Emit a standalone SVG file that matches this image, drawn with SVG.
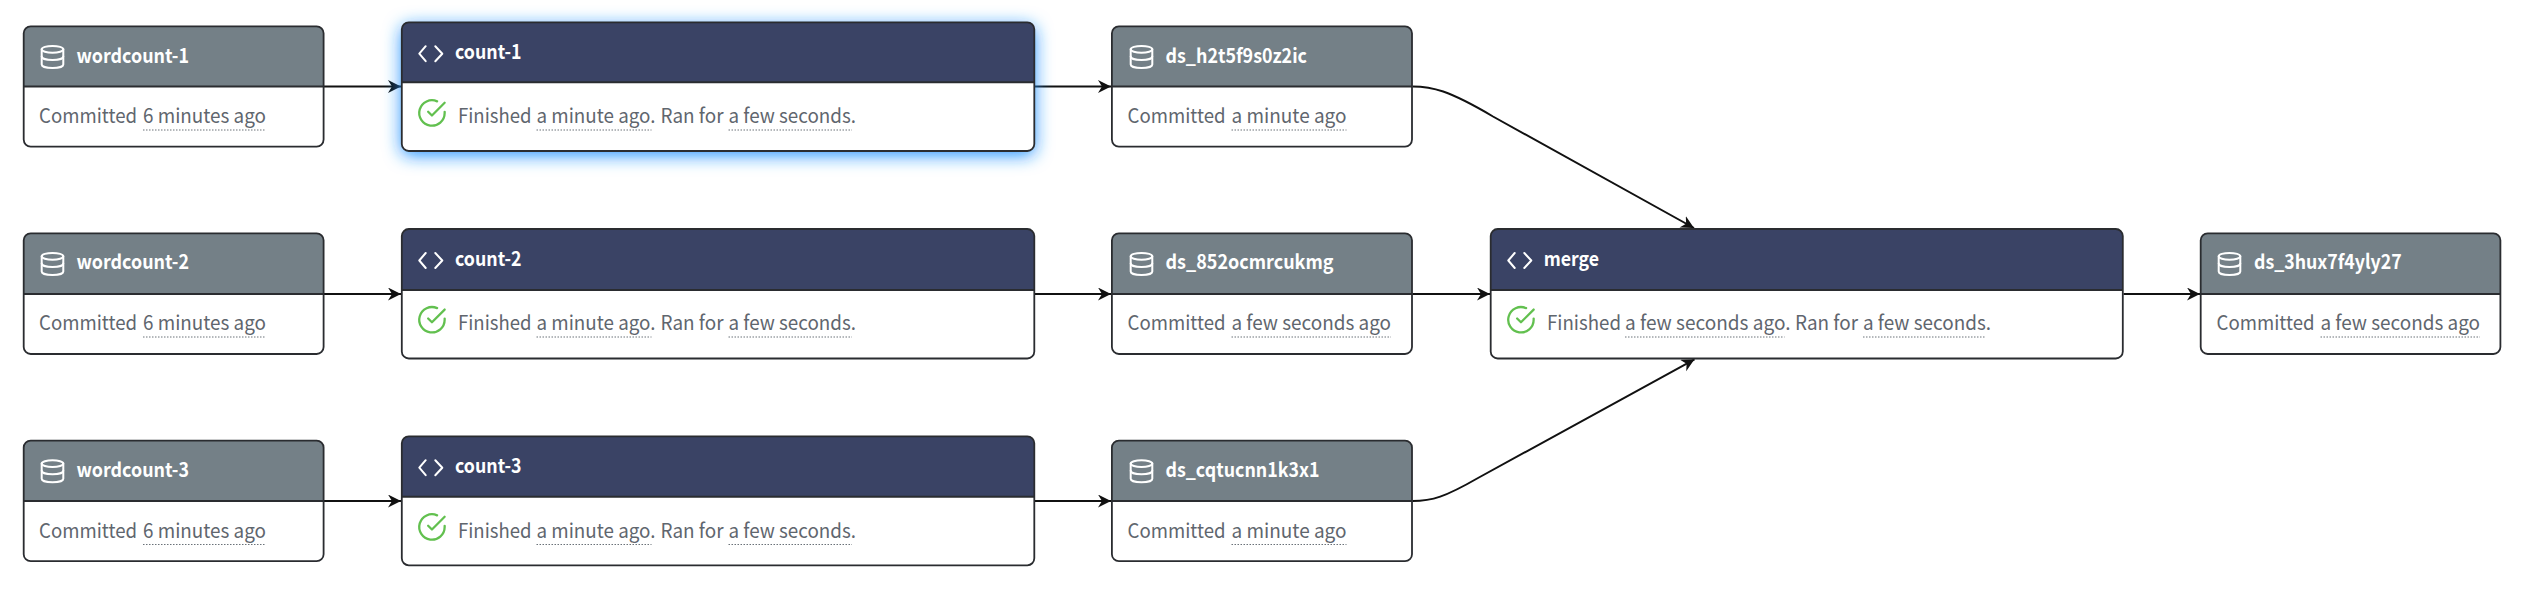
<svg xmlns="http://www.w3.org/2000/svg" width="2540" height="592" viewBox="0 0 2540 592">
<style>
text{font-family:"Noto Sans CJK SC","Source Sans Pro","Lato",sans-serif}
.b{fill:#fff}
.o{fill:none;stroke:#2a2c30;stroke-width:1.8}
.hd{fill:#748087}
.hj{fill:#3a4365}
.div{stroke:#2a2c30;stroke-width:2}
.t{font-size:20px;font-weight:600;fill:#fff}
.s{font-size:20px;fill:#5f666e}
.u{stroke:#6b7279;stroke-width:1;stroke-dasharray:1.5 1.5}
.c{fill:none;stroke:#111;stroke-width:2}
.i{fill:none;stroke:#fff;stroke-width:2;stroke-linecap:round;stroke-linejoin:round}
.k{fill:none;stroke:#62c04f;stroke-width:1.8;stroke-linecap:round;stroke-linejoin:round}
</style>
<defs>
<marker id="a" markerUnits="userSpaceOnUse" markerWidth="14" markerHeight="14" refX="13" refY="6.5" orient="auto"><path d="M0 0L13 6.500L0 13L4 6.500Z" fill="#111"/></marker>
<filter id="glow" x="-10%" y="-40%" width="120%" height="190%"><feDropShadow dx="0" dy="4" stdDeviation="9" flood-color="#1e90ff" flood-opacity="1"/></filter>
<symbol id="db" viewBox="0 0 24 24" width="24" height="24" overflow="visible"><g class="i"><ellipse cx="12" cy="4.300" rx="10.800" ry="3.400"/><path d="M1.200 4.300V19.500C1.200 21.500 6 23 12 23S22.800 21.500 22.800 19.500V4.300"/><path d="M1.200 11.500C1.200 13.500 6 15 12 15S22.800 13.500 22.800 11.500"/></g></symbol>
<symbol id="code" viewBox="0 0 26 16" width="26" height="16" overflow="visible"><path class="i" d="M7.700 0.500L1.300 8L7.700 15.500M17.300 0.500L24.300 8L17.300 15.500"/></symbol>
<symbol id="ok" viewBox="0 0 24 24" width="30.500" height="30.500" overflow="visible"><path class="k" d="M22 11.080V12a10 10 0 1 1-5.930-9.140"/><path class="k" d="M22 4L12 14.010l-3-3"/></symbol>
</defs>
<g id="connectors">
<path class="c" marker-end="url(#a)" d="M324 86.500H401"/>
<path class="c" marker-end="url(#a)" d="M324 294H401"/>
<path class="c" marker-end="url(#a)" d="M324 501H401"/>
<path class="c" marker-end="url(#a)" d="M1035 86.500H1111"/>
<path class="c" marker-end="url(#a)" d="M1035 294H1111"/>
<path class="c" marker-end="url(#a)" d="M1035 501H1111"/>
<path class="c" marker-end="url(#a)" d="M1412.500 86.500C1432 86.500 1448 90 1493 116.500L1694 228"/>
<path class="c" marker-end="url(#a)" d="M1412.500 294H1490"/>
<path class="c" marker-end="url(#a)" d="M1412.500 501C1432 501 1445 497 1478 478L1694.500 359.300"/>
<path class="c" marker-end="url(#a)" d="M2123.500 294H2200"/>
</g>
<g id="wordcount-1">
<rect class="b" x="23.700" y="26.300" width="299.900" height="120.300" rx="7"/>
<path class="hd" d="M23.700 86.500V33.300a7 7 0 0 1 7-7H316.600a7 7 0 0 1 7 7V86.500Z"/>
<line class="div" x1="23.700" y1="86.500" x2="323.600" y2="86.500"/>
<rect class="o" x="23.700" y="26.300" width="299.900" height="120.300" rx="7"/>
<use href="#db" x="40.500" y="45"/>
<text class="t" x="76.500" y="62.700" textLength="112.500" lengthAdjust="spacingAndGlyphs">wordcount-1</text>
<text class="s" x="39" y="123.300" textLength="98" lengthAdjust="spacingAndGlyphs">Committed</text>
<text class="s" x="143" y="123.300" textLength="123" lengthAdjust="spacingAndGlyphs">6 minutes ago</text>
<line class="u" x1="143" y1="130" x2="265.500" y2="130"/>
</g>
<g id="wordcount-2">
<rect class="b" x="23.700" y="233.300" width="299.900" height="120.700" rx="7"/>
<path class="hd" d="M23.700 294V240.300a7 7 0 0 1 7-7H316.600a7 7 0 0 1 7 7V294Z"/>
<line class="div" x1="23.700" y1="294" x2="323.600" y2="294"/>
<rect class="o" x="23.700" y="233.300" width="299.900" height="120.700" rx="7"/>
<use href="#db" x="40.500" y="252"/>
<text class="t" x="76.500" y="269.200" textLength="112.500" lengthAdjust="spacingAndGlyphs">wordcount-2</text>
<text class="s" x="39" y="330.300" textLength="98" lengthAdjust="spacingAndGlyphs">Committed</text>
<text class="s" x="143" y="330.300" textLength="123" lengthAdjust="spacingAndGlyphs">6 minutes ago</text>
<line class="u" x1="143" y1="337" x2="265.500" y2="337"/>
</g>
<g id="wordcount-3">
<rect class="b" x="23.700" y="440.600" width="299.900" height="120.600" rx="7"/>
<path class="hd" d="M23.700 501V447.600a7 7 0 0 1 7-7H316.600a7 7 0 0 1 7 7V501Z"/>
<line class="div" x1="23.700" y1="501" x2="323.600" y2="501"/>
<rect class="o" x="23.700" y="440.600" width="299.900" height="120.600" rx="7"/>
<use href="#db" x="40.500" y="459.300"/>
<text class="t" x="76.500" y="476.500" textLength="112.500" lengthAdjust="spacingAndGlyphs">wordcount-3</text>
<text class="s" x="39" y="537.500" textLength="98" lengthAdjust="spacingAndGlyphs">Committed</text>
<text class="s" x="143" y="537.500" textLength="123" lengthAdjust="spacingAndGlyphs">6 minutes ago</text>
<line class="u" x1="143" y1="544.500" x2="265.500" y2="544.500"/>
</g>
<g id="count-1">
<rect class="b" x="401.800" y="22.300" width="632.500" height="128.700" rx="7" filter="url(#glow)"/>
<path class="hj" d="M401.800 82.300V29.300a7 7 0 0 1 7-7H1027.300a7 7 0 0 1 7 7V82.300Z"/>
<line class="div" x1="401.800" y1="82.300" x2="1034.300" y2="82.300"/>
<rect class="o" x="401.800" y="22.300" width="632.500" height="128.700" rx="7"/>
<use href="#code" x="418" y="45.700"/>
<text class="t" x="455" y="59.300" textLength="66.500" lengthAdjust="spacingAndGlyphs">count-1</text>
<use href="#ok" x="416.700" y="97.700"/>
<text class="s" x="458" y="123.300" textLength="73.500" lengthAdjust="spacingAndGlyphs">Finished</text>
<text class="s" x="536.500" y="123.300" textLength="119" lengthAdjust="spacingAndGlyphs">a minute ago.</text>
<text class="s" x="660.500" y="123.300" textLength="63" lengthAdjust="spacingAndGlyphs">Ran for</text>
<text class="s" x="728.500" y="123.300" textLength="127.500" lengthAdjust="spacingAndGlyphs">a few seconds.</text>
<line class="u" x1="536.500" y1="130" x2="651.500" y2="130"/>
<line class="u" x1="728.500" y1="130" x2="852" y2="130"/>
</g>
<g id="count-2">
<rect class="b" x="401.800" y="229" width="632.500" height="129.500" rx="7"/>
<path class="hj" d="M401.800 290V236a7 7 0 0 1 7-7H1027.300a7 7 0 0 1 7 7V290Z"/>
<line class="div" x1="401.800" y1="290" x2="1034.300" y2="290"/>
<rect class="o" x="401.800" y="229" width="632.500" height="129.500" rx="7"/>
<use href="#code" x="418" y="252.500"/>
<text class="t" x="455" y="265.500" textLength="66.500" lengthAdjust="spacingAndGlyphs">count-2</text>
<use href="#ok" x="416.700" y="304.500"/>
<text class="s" x="458" y="330.300" textLength="73.500" lengthAdjust="spacingAndGlyphs">Finished</text>
<text class="s" x="536.500" y="330.300" textLength="119" lengthAdjust="spacingAndGlyphs">a minute ago.</text>
<text class="s" x="660.500" y="330.300" textLength="63" lengthAdjust="spacingAndGlyphs">Ran for</text>
<text class="s" x="728.500" y="330.300" textLength="127.500" lengthAdjust="spacingAndGlyphs">a few seconds.</text>
<line class="u" x1="536.500" y1="337" x2="651.500" y2="337"/>
<line class="u" x1="728.500" y1="337" x2="852" y2="337"/>
</g>
<g id="count-3">
<rect class="b" x="401.800" y="436.300" width="632.500" height="129" rx="7"/>
<path class="hj" d="M401.800 496.700V443.300a7 7 0 0 1 7-7H1027.300a7 7 0 0 1 7 7V496.700Z"/>
<line class="div" x1="401.800" y1="496.700" x2="1034.300" y2="496.700"/>
<rect class="o" x="401.800" y="436.300" width="632.500" height="129" rx="7"/>
<use href="#code" x="418" y="459.700"/>
<text class="t" x="455" y="472.800" textLength="66.500" lengthAdjust="spacingAndGlyphs">count-3</text>
<use href="#ok" x="416.700" y="511.700"/>
<text class="s" x="458" y="537.500" textLength="73.500" lengthAdjust="spacingAndGlyphs">Finished</text>
<text class="s" x="536.500" y="537.500" textLength="119" lengthAdjust="spacingAndGlyphs">a minute ago.</text>
<text class="s" x="660.500" y="537.500" textLength="63" lengthAdjust="spacingAndGlyphs">Ran for</text>
<text class="s" x="728.500" y="537.500" textLength="127.500" lengthAdjust="spacingAndGlyphs">a few seconds.</text>
<line class="u" x1="536.500" y1="544.500" x2="651.500" y2="544.500"/>
<line class="u" x1="728.500" y1="544.500" x2="852" y2="544.500"/>
</g>
<g id="ds_h2t5f9s0z2ic">
<rect class="b" x="1111.900" y="26.300" width="300.100" height="120.300" rx="7"/>
<path class="hd" d="M1111.900 86.500V33.300a7 7 0 0 1 7-7H1405a7 7 0 0 1 7 7V86.500Z"/>
<line class="div" x1="1111.900" y1="86.500" x2="1412" y2="86.500"/>
<rect class="o" x="1111.900" y="26.300" width="300.100" height="120.300" rx="7"/>
<use href="#db" x="1129.500" y="45"/>
<text class="t" x="1165.500" y="62.700" textLength="141.500" lengthAdjust="spacingAndGlyphs">ds_h2t5f9s0z2ic</text>
<text class="s" x="1127.500" y="123.300" textLength="98" lengthAdjust="spacingAndGlyphs">Committed</text>
<text class="s" x="1231.500" y="123.300" textLength="115" lengthAdjust="spacingAndGlyphs">a minute ago</text>
<line class="u" x1="1231.500" y1="130" x2="1346.500" y2="130"/>
</g>
<g id="ds_852ocmrcukmg">
<rect class="b" x="1111.900" y="233.300" width="300.100" height="120.700" rx="7"/>
<path class="hd" d="M1111.900 294V240.300a7 7 0 0 1 7-7H1405a7 7 0 0 1 7 7V294Z"/>
<line class="div" x1="1111.900" y1="294" x2="1412" y2="294"/>
<rect class="o" x="1111.900" y="233.300" width="300.100" height="120.700" rx="7"/>
<use href="#db" x="1129.500" y="252"/>
<text class="t" x="1165.500" y="269.200" textLength="168" lengthAdjust="spacingAndGlyphs">ds_852ocmrcukmg</text>
<text class="s" x="1127.500" y="330.300" textLength="98" lengthAdjust="spacingAndGlyphs">Committed</text>
<text class="s" x="1231.500" y="330.300" textLength="159.500" lengthAdjust="spacingAndGlyphs">a few seconds ago</text>
<line class="u" x1="1231.500" y1="337" x2="1391" y2="337"/>
</g>
<g id="ds_cqtucnn1k3x1">
<rect class="b" x="1111.900" y="440.600" width="300.100" height="120.600" rx="7"/>
<path class="hd" d="M1111.900 501V447.600a7 7 0 0 1 7-7H1405a7 7 0 0 1 7 7V501Z"/>
<line class="div" x1="1111.900" y1="501" x2="1412" y2="501"/>
<rect class="o" x="1111.900" y="440.600" width="300.100" height="120.600" rx="7"/>
<use href="#db" x="1129.500" y="459.300"/>
<text class="t" x="1165.500" y="476.500" textLength="154" lengthAdjust="spacingAndGlyphs">ds_cqtucnn1k3x1</text>
<text class="s" x="1127.500" y="537.500" textLength="98" lengthAdjust="spacingAndGlyphs">Committed</text>
<text class="s" x="1231.500" y="537.500" textLength="115" lengthAdjust="spacingAndGlyphs">a minute ago</text>
<line class="u" x1="1231.500" y1="544.500" x2="1346.500" y2="544.500"/>
</g>
<g id="merge">
<rect class="b" x="1490.700" y="229" width="632.100" height="129.500" rx="7"/>
<path class="hj" d="M1490.700 290V236a7 7 0 0 1 7-7H2115.800a7 7 0 0 1 7 7V290Z"/>
<line class="div" x1="1490.700" y1="290" x2="2122.800" y2="290"/>
<rect class="o" x="1490.700" y="229" width="632.100" height="129.500" rx="7"/>
<use href="#code" x="1507" y="252.500"/>
<text class="t" x="1543.700" y="265.500" textLength="55.300" lengthAdjust="spacingAndGlyphs">merge</text>
<use href="#ok" x="1505.700" y="304.500"/>
<text class="s" x="1547" y="330.300" textLength="74" lengthAdjust="spacingAndGlyphs">Finished</text>
<text class="s" x="1625" y="330.300" textLength="165.500" lengthAdjust="spacingAndGlyphs">a few seconds ago.</text>
<text class="s" x="1795" y="330.300" textLength="63" lengthAdjust="spacingAndGlyphs">Ran for</text>
<text class="s" x="1863" y="330.300" textLength="128" lengthAdjust="spacingAndGlyphs">a few seconds.</text>
<line class="u" x1="1625" y1="337" x2="1784.500" y2="337"/>
<line class="u" x1="1863" y1="337" x2="1986" y2="337"/>
</g>
<g id="ds_3hux7f4yly27">
<rect class="b" x="2200.700" y="233.300" width="299.700" height="120.700" rx="7"/>
<path class="hd" d="M2200.700 294V240.300a7 7 0 0 1 7-7H2493.400a7 7 0 0 1 7 7V294Z"/>
<line class="div" x1="2200.700" y1="294" x2="2500.400" y2="294"/>
<rect class="o" x="2200.700" y="233.300" width="299.700" height="120.700" rx="7"/>
<use href="#db" x="2217.500" y="252"/>
<text class="t" x="2254" y="269.200" textLength="147.700" lengthAdjust="spacingAndGlyphs">ds_3hux7f4yly27</text>
<text class="s" x="2216.500" y="330.300" textLength="98" lengthAdjust="spacingAndGlyphs">Committed</text>
<text class="s" x="2320.500" y="330.300" textLength="159.500" lengthAdjust="spacingAndGlyphs">a few seconds ago</text>
<line class="u" x1="2320.500" y1="337" x2="2480" y2="337"/>
</g>
</svg>
